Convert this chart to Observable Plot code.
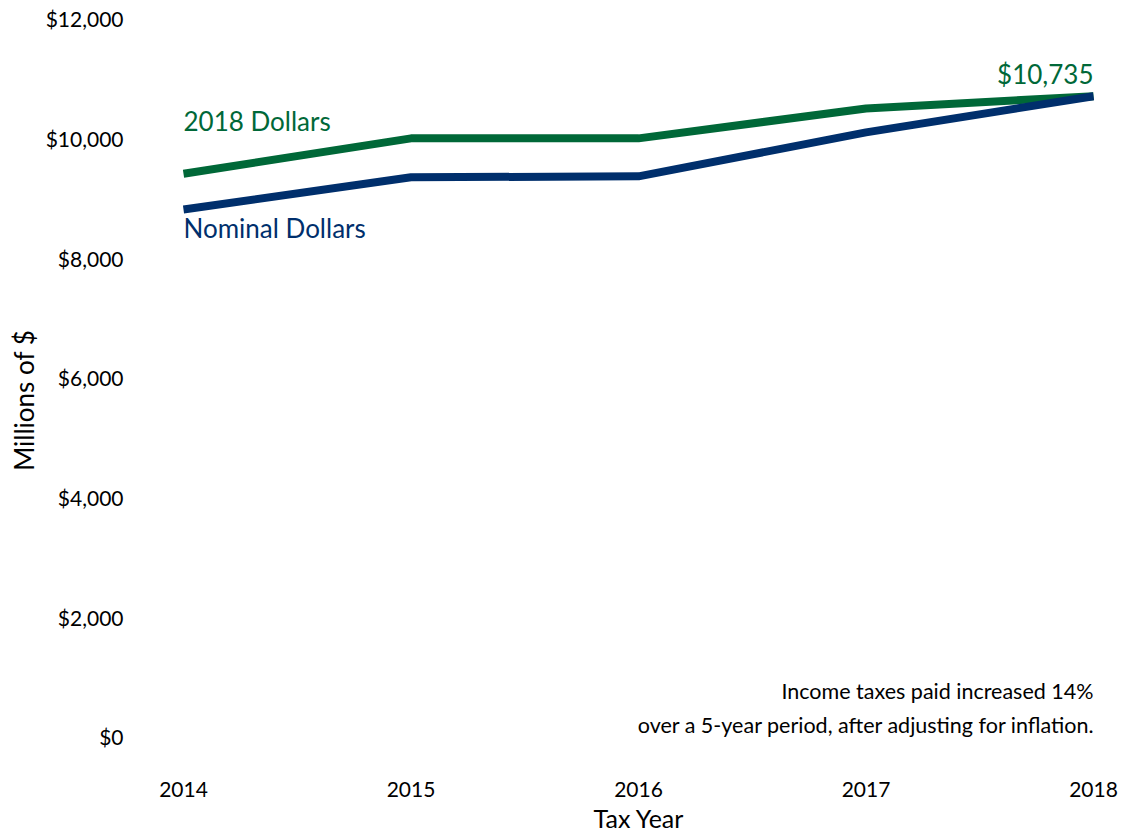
<!DOCTYPE html>
<html>
<head>
<meta charset="utf-8">
<script src="https://cdn.jsdelivr.net/npm/d3@7"></script>
<script src="https://cdn.jsdelivr.net/npm/@observablehq/plot@0.6"></script>
<style>
  html, body { margin: 0; padding: 0; background: #fff; }
  svg { font-family: Lato, "Open Sans", sans-serif; }
</style>
</head>
<body>
<div id="chart"></div>
<script>
const years = [2014, 2015, 2016, 2017, 2018];
const real2018 = [9440, 10030, 10030, 10530, 10735];
const nominal = [8840, 9380, 9395, 10130, 10735];
const yTicks = [0, 2000, 4000, 6000, 8000, 10000, 12000];
const seriesNames = ["2018 Dollars", "Nominal Dollars"];
const seriesColors = ["#006838", "#002f6c"];
const noteText = "Income taxes paid increased 14%\nover a 5-year period, after adjusting for inflation.";

const data = [
  ...years.map((y, i) => ({year: y, value: real2018[i], series: seriesNames[0]})),
  ...years.map((y, i) => ({year: y, value: nominal[i], series: seriesNames[1]}))
];
const fmt = d => "$" + d3.format(",")(d);

const chart = Plot.plot({
  width: 1124,
  height: 836,
  marginLeft: 183,
  marginRight: 31,
  marginTop: 20,
  marginBottom: 98,
  style: {fontFamily: "Lato, 'Open Sans', sans-serif", background: "#fff"},
  x: {type: "linear", domain: [2014, 2018]},
  y: {domain: [0, 12000]},
  color: {domain: seriesNames, range: seriesColors},
  marks: [
    Plot.axisY({ticks: yTicks, tickFormat: fmt, tickSize: 0, tickPadding: 60, label: null, fontSize: 21, fill: "#000"}),
    Plot.axisX({ticks: years, tickFormat: d3.format("d"), tickSize: 0, tickPadding: 44, label: null, fontSize: 21, fill: "#000"}),
    Plot.line(data, {x: "year", y: "value", z: "series", stroke: "series", strokeWidth: 8, strokeLinejoin: "round", strokeLinecap: "butt"}),
    Plot.text([data[0]], {x: "year", y: "value", text: () => seriesNames[0], fill: seriesColors[0], textAnchor: "start", dy: -51, fontSize: 26}),
    Plot.text([data[5]], {x: "year", y: "value", text: () => seriesNames[1], fill: seriesColors[1], textAnchor: "start", dy: 20, fontSize: 26}),
    Plot.text([data[4]], {x: "year", y: "value", text: d => fmt(d.value), fill: seriesColors[0], textAnchor: "end", dy: -21, fontSize: 26}),
    Plot.text([noteText], {frameAnchor: "bottom-right", text: d => d, textAnchor: "end", lineAnchor: "bottom", lineHeight: 1.55, dy: -6, fontSize: 21.5, fill: "#000"}),
    Plot.text(["Millions of $"], {frameAnchor: "left", text: d => d, textAnchor: "middle", rotate: -90, dx: -158, dy: 21, fontSize: 26, fill: "#000"}),
    Plot.text(["Tax Year"], {frameAnchor: "bottom", text: d => d, dy: 72, lineAnchor: "top", fontSize: 25, fill: "#000"})
  ]
});
document.getElementById("chart").appendChild(chart);
</script>
</body>
</html>
